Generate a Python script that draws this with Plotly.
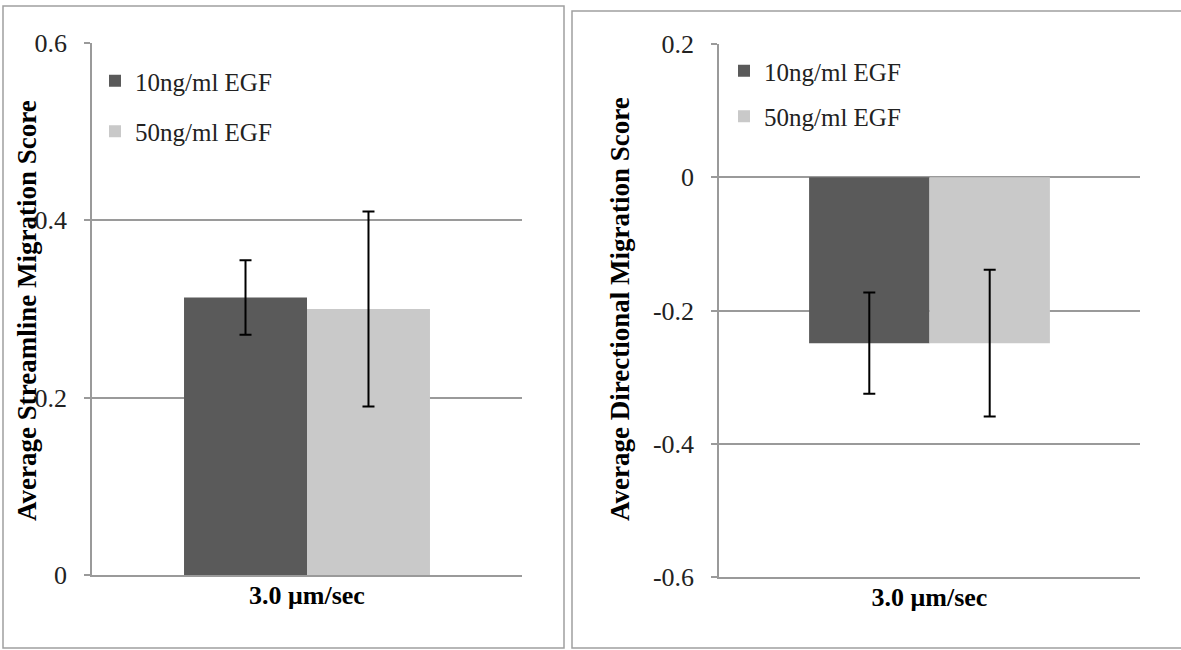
import plotly.graph_objects as go

categories = ["3.0 μm/sec"]
series_names = ["10ng/ml EGF", "50ng/ml EGF"]
series_colors = ["#5a5a5a", "#c9c9c9"]

streamline_values = [0.313, 0.300]
streamline_errors = [0.042, 0.110]

directional_values = [-0.249, -0.249]
directional_errors = [0.076, 0.110]

left_tickvals = [0, 0.2, 0.4, 0.6]
left_ticktext = ["0", "0.2", "0.4", "0.6"]
right_tickvals = [-0.6, -0.4, -0.2, 0, 0.2]
right_ticktext = ["-0.6", "-0.4", "-0.2", "0", "0.2"]

left_title = "Average Streamline Migration Score"
right_title = "Average Directional Migration Score"

W, H = 1181, 650
FONT = "Liberation Serif"
GRID = "#9a9a9a"

fig = go.Figure()

for i, name in enumerate(series_names):
    fig.add_trace(go.Bar(
        x=categories, y=[streamline_values[i]], name=name,
        marker=dict(color=series_colors[i], line=dict(width=0)),
        error_y=dict(type="data", array=[streamline_errors[i]], color="black", thickness=2, width=6),
        xaxis="x", yaxis="y", legend="legend", legendgroup="l%d" % i,
    ))
for i, name in enumerate(series_names):
    fig.add_trace(go.Bar(
        x=categories, y=[directional_values[i]], name=name,
        marker=dict(color=series_colors[i], line=dict(width=0)),
        error_y=dict(type="data", array=[directional_errors[i]], color="black", thickness=2, width=6),
        xaxis="x2", yaxis="y2", legend="legend2", legendgroup="r%d" % i,
    ))

def xax(domain, anchor):
    return dict(domain=domain, anchor=anchor, type="category", showgrid=False, zeroline=False,
                showline=True, linecolor=GRID, linewidth=1.5, ticks="", automargin=False,
                tickfont=dict(family=FONT, size=26, color="black", weight="bold"),
                ticklabelstandoff=-4, fixedrange=True)

def yax(domain, anchor, rng, tv, tt):
    return dict(domain=domain, anchor=anchor, range=rng, tickvals=tv, ticktext=tt,
                showgrid=True, gridcolor=GRID, gridwidth=1.5, zeroline=False,
                showline=True, linecolor=GRID, linewidth=1.5, automargin=False,
                ticks="outside", ticklen=6, tickcolor=GRID, tickwidth=1.5,
                tickfont=dict(family=FONT, size=26, color="#222"),
                ticklabelstandoff=12, fixedrange=True)

fig.update_layout(
    template="none",
    width=W, height=H, margin=dict(l=0, r=0, t=0, b=0, autoexpand=False),
    paper_bgcolor="white", plot_bgcolor="white",
    barmode="group", bargap=0.428, bargroupgap=0,
    xaxis=xax([92 / W, 522 / W], "y"),
    yaxis=yax([1 - 575 / H, 1 - 43 / H], "x", [0, 0.6], left_tickvals, left_ticktext),
    xaxis2=xax([719 / W, 1140 / W], "y2"),
    yaxis2=yax([1 - 577 / H, 1 - 44 / H], "x2", [-0.6, 0.2], right_tickvals, right_ticktext),
    legend=dict(x=95 / W, y=1 - 58 / H, xanchor="left", yanchor="top",
                font=dict(family=FONT, size=25, color="#222"), bgcolor="rgba(0,0,0,0)",
                traceorder="grouped", tracegroupgap=15),
    legend2=dict(x=724 / W, y=1 - 48 / H, xanchor="left", yanchor="top",
                 font=dict(family=FONT, size=25, color="#222"), bgcolor="rgba(0,0,0,0)",
                 traceorder="grouped", tracegroupgap=10),
    annotations=[
        dict(text="<b>" + left_title + "</b>", xref="paper", yref="paper",
             x=27 / W, y=1 - 311 / H, textangle=-90, showarrow=False,
             font=dict(family=FONT, size=27, color="black"), xanchor="center", yanchor="middle"),
        dict(text="<b>" + right_title + "</b>", xref="paper", yref="paper",
             x=620 / W, y=1 - 309 / H, textangle=-90, showarrow=False,
             font=dict(family=FONT, size=27, color="black"), xanchor="center", yanchor="middle"),
    ],
    shapes=[
        dict(type="rect", xref="paper", yref="paper", x0=3 / W, x1=564 / W, y0=1 - 648 / H, y1=1 - 6 / H,
             line=dict(color="#a0a0a0", width=1.5)),
        dict(type="rect", xref="paper", yref="paper", x0=572 / W, x1=1182 / W, y0=1 - 648 / H, y1=1 - 11 / H,
             line=dict(color="#a0a0a0", width=1.5)),
    ],
    showlegend=True,
)

fig.write_html("out.html", config={"displayModeBar": False})
